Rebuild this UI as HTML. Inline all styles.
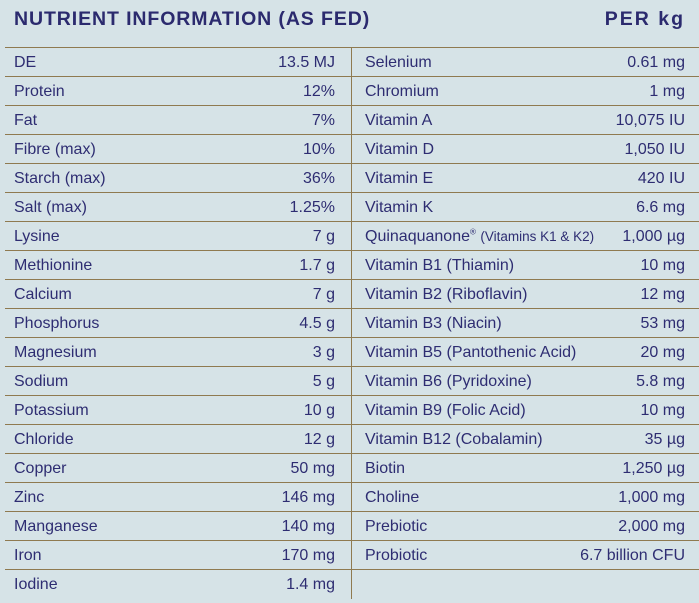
<!DOCTYPE html>
<html><head><style>
body{margin:0;width:699px;height:603px;background:#d6e3e7;font-family:"Liberation Sans",sans-serif;color:#2e2d72;position:relative;overflow:hidden}
.h{position:absolute;top:8px;font-weight:bold;font-size:19.5px;letter-spacing:0.9px;color:#2b2a6e}
.r{position:absolute;height:29px;line-height:29px;font-size:16px;border-top:1px solid #8f7a50;box-sizing:border-box}
.r span{position:absolute}
.vl{position:absolute;left:351px;top:47px;width:1px;height:552px;background:#8f7a50}
sup{font-size:8px;line-height:0}
small{font-size:13.5px}
</style></head><body>
<div class="h" style="left:14px">NUTRIENT INFORMATION (AS FED)</div>
<div class="h" style="right:14px;letter-spacing:2px">PER kg</div>
<div class="vl"></div>
<div id="t"></div>
<script>
var L=[["DE","13.5 MJ"],["Protein","12%"],["Fat","7%"],["Fibre (max)","10%"],["Starch (max)","36%"],["Salt (max)","1.25%"],["Lysine","7 g"],["Methionine","1.7 g"],["Calcium","7 g"],["Phosphorus","4.5 g"],["Magnesium","3 g"],["Sodium","5 g"],["Potassium","10 g"],["Chloride","12 g"],["Copper","50 mg"],["Zinc","146 mg"],["Manganese","140 mg"],["Iron","170 mg"],["Iodine","1.4 mg"]];
var R=[["Selenium","0.61 mg"],["Chromium","1 mg"],["Vitamin A","10,075 IU"],["Vitamin D","1,050 IU"],["Vitamin E","420 IU"],["Vitamin K","6.6 mg"],["Quinaquanone<sup>®</sup> <small>(Vitamins K1 &amp; K2)</small>","1,000 µg"],["Vitamin B1 (Thiamin)","10 mg"],["Vitamin B2 (Riboflavin)","12 mg"],["Vitamin B3 (Niacin)","53 mg"],["Vitamin B5 (Pantothenic Acid)","20 mg"],["Vitamin B6 (Pyridoxine)","5.8 mg"],["Vitamin B9 (Folic Acid)","10 mg"],["Vitamin B12 (Cobalamin)","35 µg"],["Biotin","1,250 µg"],["Choline","1,000 mg"],["Prebiotic","2,000 mg"],["Probiotic","6.7 billion CFU"]];
var h="";
L.forEach(function(r,i){h+='<div class="r" style="left:5px;width:346px;top:'+(47+i*29)+'px"><span style="left:9px">'+r[0]+'</span><span style="right:16px">'+r[1]+'</span></div>';});
R.forEach(function(r,i){h+='<div class="r" style="left:352px;width:347px;top:'+(47+i*29)+'px"><span style="left:13px">'+r[0]+'</span><span style="right:14px">'+r[1]+'</span></div>';});
h+='<div style="position:absolute;left:352px;width:347px;top:569px;height:1px;background:#8f7a50"></div>';
document.getElementById("t").innerHTML=h;
</script>
</body></html>
